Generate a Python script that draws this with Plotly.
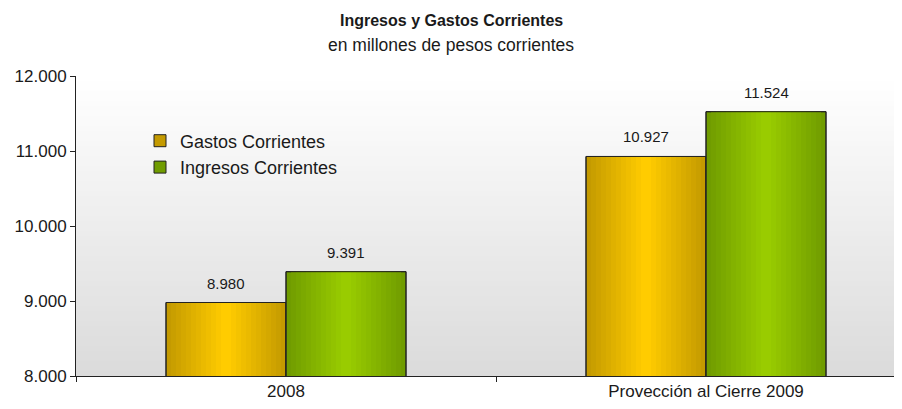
import plotly.graph_objects as go

categories = ["2008", "Provección al Cierre 2009"]
gastos = [8980, 10927]
ingresos = [9391, 11524]
series_names = ["Gastos Corrientes", "Ingresos Corrientes"]
y_ticks = [8000, 9000, 10000, 11000, 12000]

FONT = "Liberation Sans, Arial, sans-serif"
TXT = "#1a1a1a"

BW = 120 / 420  # bar width in category units
FIG_W = 903
PLOT_W = FIG_W - 68


def lerp(c1, c2, t):
    return "#%02x%02x%02x" % tuple(int(round(a + (b - a) * t)) for a, b in zip(c1, c2))


series = [
    (series_names[0], gastos, (0xC4, 0x9A, 0x00), (0xFF, 0xCC, 0x00), -BW / 2),
    (series_names[1], ingresos, (0x70, 0x9C, 0x00), (0x99, 0xCC, 0x00), BW / 2),
]

fig = go.Figure()
N = 12
for gi, (name, vals, edge, center, cshift) in enumerate(series):
    for k in range(N):
        w = BW * (1 - k / N)
        t = k / (N - 1)
        fig.add_trace(go.Bar(
            x=categories, y=vals, base=0,
            width=[w] * len(vals), offset=[cshift - w / 2] * len(vals),
            marker=dict(color=lerp(edge, center, t),
                        line=dict(width=1 if k == 0 else 0, color="#222222")),
            name=name, legendgroup=name, showlegend=(k == 0),
            hoverinfo="skip",
        ))
    # outline on top
    fig.add_trace(go.Bar(
        x=categories, y=vals, base=0,
        width=[BW] * len(vals), offset=[cshift - BW / 2] * len(vals),
        marker=dict(color="rgba(0,0,0,0)", line=dict(width=1, color="#222222")),
        name=name, legendgroup=name, showlegend=False,
        hovertemplate="%{x}: %{y:,.0f}<extra>" + name + "</extra>",
    ))
    for ci, v in enumerate(vals):
        fig.add_annotation(
            x=ci + cshift, y=v, xref="x", yref="y",
            text=f"{v:,.0f}".replace(",", "."),
            showarrow=False, yanchor="bottom", yshift=9,
            font=dict(family=FONT, size=15, color=TXT),
        )

# background vertical gradient of the plot area
STRIPS = 60
for i in range(STRIPS):
    t = i / (STRIPS - 1)
    fig.add_shape(type="rect", xref="x domain", yref="y domain",
                  x0=0, x1=1, y0=1 - (i + 1) / STRIPS, y1=1 - i / STRIPS,
                  fillcolor=lerp((0xFF, 0xFF, 0xFF), (0xDB, 0xDB, 0xDB), t),
                  line=dict(width=0), layer="below")

title_x = (451 - 76) / PLOT_W
fig.add_annotation(text="<b>Ingresos y Gastos Corrientes</b>", xref="paper", yref="paper",
                   x=title_x, y=1.185, showarrow=False, yanchor="middle",
                   font=dict(family=FONT, size=16, color=TXT))
fig.add_annotation(text="en millones de pesos corrientes", xref="paper", yref="paper",
                   x=title_x, y=1.103, showarrow=False, yanchor="middle",
                   font=dict(family=FONT, size=17.5, color=TXT))

fig.update_layout(
    width=FIG_W, height=393,
    margin=dict(l=68, r=0, t=68, b=25, autoexpand=False),
    paper_bgcolor="white", plot_bgcolor="white",
    barmode="overlay",
    separators=",.",
    font=dict(family=FONT, size=17, color=TXT),
    showlegend=True,
    legend=dict(x=(140 - 76) / PLOT_W, y=0.845, xanchor="left", yanchor="top",
                bgcolor="rgba(0,0,0,0)", font=dict(family=FONT, size=18, color=TXT),
                traceorder="grouped", tracegroupgap=0),
    xaxis=dict(type="category", range=[-0.5, -0.5 + PLOT_W / 420], automargin=False,
               showline=True, linecolor="#222222", linewidth=1,
               ticks="outside", ticklen=5, tickcolor="#222222", tickson="boundaries",
               showgrid=False, zeroline=False,
               tickfont=dict(family=FONT, size=17, color=TXT)),
    yaxis=dict(range=[8000, 12000], tickvals=y_ticks, tickformat=",d", automargin=False,
               showline=True, linecolor="#222222", linewidth=1,
               ticks="outside", ticklen=5, tickcolor="#222222",
               showgrid=False, zeroline=False,
               tickfont=dict(family=FONT, size=17, color=TXT)),
)

fig.write_html("out.html")
